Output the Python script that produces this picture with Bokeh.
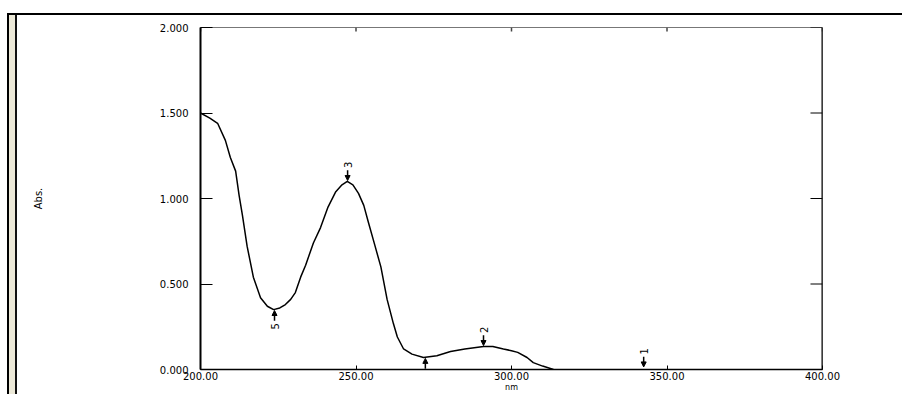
import math
from bokeh.plotting import figure
from bokeh.models import (Range1d, FixedTicker, Arrow, NormalHead, ColumnDataSource, Span)
from bokeh.core.properties import value
from bokeh.embed import file_html
from bokeh.resources import INLINE

# ---- data ----
wavelength_nm = [200, 203, 205.5, 208, 209.6, 211.3, 212.4, 213.5, 215, 217, 219.3, 221.5,
                 223.5, 225.5, 227.3, 229, 230.5, 232.2, 233.8, 236.3, 238.6, 241, 243.5,
                 245.5, 247.2, 249, 250.8, 252.5, 254, 256, 258, 260, 262, 263.3, 265.3,
                 268, 271.7, 276, 280.4, 285, 291, 294, 297.4, 300, 302, 305, 307, 310,
                 313.5, 316]
absorbance = [1.50, 1.47, 1.44, 1.34, 1.24, 1.16, 1.02, 0.90, 0.72, 0.54, 0.42, 0.37,
              0.35, 0.36, 0.38, 0.41, 0.45, 0.54, 0.61, 0.74, 0.83, 0.95, 1.04,
              1.08, 1.10, 1.08, 1.03, 0.96, 0.86, 0.73, 0.60, 0.41, 0.27, 0.19, 0.12,
              0.09, 0.07, 0.08, 0.105, 0.12, 0.135, 0.135, 0.12, 0.11, 0.10, 0.07, 0.04,
              0.02, 0.0, -0.01]

peak_ids = ["1", "2", "3"]
peak_nm = [342.5, 291.0, 247.3]
peak_abs = [0.01, 0.135, 1.10]

valley_ids = ["4", "5"]
valley_nm = [272.3, 223.8]
valley_abs = [0.07, 0.35]

x_ticks = [200, 250, 300, 350, 400]
x_tick_labels = ["200.00", "250.00", "300.00", "350.00", "400.00"]
y_ticks = [0.0, 0.5, 1.0, 1.5, 2.0]
y_tick_labels = ["0.000", "0.500", "1.000", "1.500", "2.000"]

X_MIN, X_MAX = 200, 400
Y_MIN, Y_MAX = 0, 2

FONT = "DejaVu Sans"

# window frame of the original screenshot (drawn as CSS background behind the canvas)
frame_css = ("linear-gradient(#000,#000) 7px 13px / calc(100% - 7px) 2px no-repeat, "
             "linear-gradient(to right, #000 0px, #000 2px, #ECE9D8 2px, #ECE9D8 8px, "
             "#111 8px, #111 10px) 7px 13px / 10px calc(100% - 13px) no-repeat, "
             "#ffffff")

p = figure(width=902, height=394, x_range=Range1d(X_MIN, X_MAX), y_range=Range1d(Y_MIN, Y_MAX),
           output_backend="svg", toolbar_location=None,
           min_border_left=200, min_border_right=80, min_border_top=27, min_border_bottom=24,
           x_axis_label="nm", y_axis_label="Abs.",
           background_fill_color="white", border_fill_color=None,
           styles={"background": frame_css})
p.grid.visible = False
p.outline_line_color = "#777777"
p.outline_line_width = 1

# bottom axis
xa = p.xaxis[0]
xa.ticker = FixedTicker(ticks=x_ticks)
xa.major_label_overrides = {t: l for t, l in zip(x_ticks, x_tick_labels)}
xa.major_tick_in = 4
xa.major_tick_out = 0
xa.minor_tick_line_color = None
xa.major_label_standoff = 2
xa.major_label_text_font = FONT
xa.major_label_text_font_size = "10px"
xa.major_label_text_color = "black"
xa.axis_line_width = 1.5
xa.axis_line_color = "black"
xa.major_tick_line_color = "black"
xa.axis_label_text_font = FONT
xa.axis_label_text_font_size = "8px"
xa.axis_label_text_font_style = "normal"
xa.axis_label_text_color = "black"
xa.axis_label_standoff = 0

# left axis
ya = p.yaxis[0]
ya.ticker = FixedTicker(ticks=y_ticks)
ya.major_label_overrides = {t: l for t, l in zip(y_ticks, y_tick_labels)}
ya.major_tick_in = 12
ya.major_tick_out = 0
ya.minor_tick_line_color = None
ya.major_label_standoff = 12
ya.major_label_text_font = FONT
ya.major_label_text_font_size = "10px"
ya.major_label_text_color = "black"
ya.axis_line_width = 2
ya.axis_line_color = "black"
ya.major_tick_line_color = "black"
ya.axis_label_text_font = FONT
ya.axis_label_text_font_size = "10px"
ya.axis_label_text_font_style = "normal"
ya.axis_label_text_color = "black"
ya.axis_label_standoff = 113

# right edge: thick black line with inward ticks (no labels)
p.add_layout(Span(location=X_MAX, dimension="height", line_color="black", line_width=2))
RIGHT_TICK = 3.86   # ~12 px in nm
TOP_TICK = 0.023    # ~4 px in absorbance
p.segment(x0=[X_MAX] * len(y_ticks), x1=[X_MAX - RIGHT_TICK] * len(y_ticks),
          y0=y_ticks, y1=y_ticks, line_color="black", line_width=1)
p.segment(x0=x_ticks, x1=x_ticks, y0=[Y_MAX] * len(x_ticks),
          y1=[Y_MAX - TOP_TICK] * len(x_ticks), line_color="#444444", line_width=1.5)

# spectrum
p.line(wavelength_nm, absorbance, line_color="black", line_width=1.5)

# peak / valley arrows
ARROW_LEN = 0.06
GAP = 0.005
LABEL_OFF = 0.097
pk = ColumnDataSource(dict(x=peak_nm, y0=[a + ARROW_LEN + GAP for a in peak_abs],
                           y1=[a + GAP for a in peak_abs],
                           ly=[a + LABEL_OFF for a in peak_abs], t=peak_ids))
vl = ColumnDataSource(dict(x=valley_nm, y0=[a - ARROW_LEN - GAP for a in valley_abs],
                           y1=[a - GAP for a in valley_abs],
                           ly=[a - LABEL_OFF for a in valley_abs], t=valley_ids))
for src in (pk, vl):
    p.add_layout(Arrow(end=NormalHead(size=5, fill_color="black", line_color="black", line_width=1),
                       x_start="x", y_start="y0", x_end="x", y_end="y1",
                       line_color="black", line_width=1.5, source=src))
    p.text(x="x", y="ly", text="t", source=src, angle=math.pi / 2,
           text_align="center", text_baseline="middle",
           text_font=value(FONT), text_font_size="10px", text_color="black")

open("out.html", "w").write(file_html(p, INLINE))
